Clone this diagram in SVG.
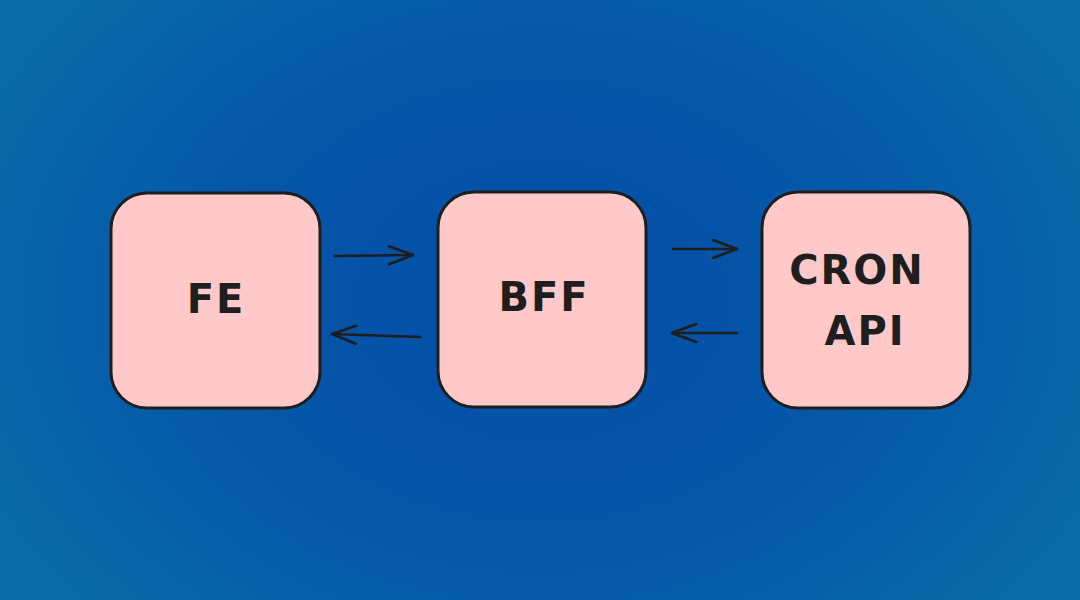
<svg xmlns="http://www.w3.org/2000/svg" width="1080" height="600" viewBox="0 0 1080 600">
<defs>
<radialGradient id="bg" cx="540" cy="300" r="620" gradientUnits="userSpaceOnUse" gradientTransform="translate(540 300) scale(1 0.75) translate(-540 -300)">
<stop offset="0" stop-color="#034ea6"/>
<stop offset="0.55" stop-color="#0557a8"/>
<stop offset="1" stop-color="#0a6ba8"/>
</radialGradient>
<marker id="ah" viewBox="0 0 30 24" refX="27" refY="12" markerWidth="30" markerHeight="24" markerUnits="userSpaceOnUse" orient="auto">
<path d="M3 3 L27 12 L3 21" fill="none" stroke="#1e1e1e" stroke-width="2.6" stroke-linecap="round" stroke-linejoin="round"/>
</marker>
</defs>
<style>
.box{fill:#ffc9c9;stroke:#1e1e1e;stroke-width:3}
.lbl{font-family:"DejaVu Sans","Liberation Sans",sans-serif;font-weight:bold;font-size:40px;fill:#1e1e1e;text-anchor:middle;letter-spacing:2px}
.conn{fill:none;stroke:#1e1e1e;stroke-width:2.6;stroke-linecap:round;marker-end:url(#ah)}
</style>
<rect width="1080" height="600" fill="url(#bg)"/>
<g id="fe">
<rect class="box" x="111" y="193" width="209" height="215" rx="36"/>
<text class="lbl" x="216" y="313">FE</text>
</g>
<g id="bff">
<rect class="box" x="438" y="192" width="208" height="215" rx="36"/>
<text class="lbl" x="544" y="311">BFF</text>
</g>
<g id="cron">
<rect class="box" x="762" y="192" width="208" height="216" rx="36"/>
<text class="lbl" x="857" y="284">CRON</text>
<text class="lbl" x="865" y="345">API</text>
</g>
<g id="connectors">
<path class="conn" d="M335 256 L413 255"/>
<path class="conn" d="M420 337 L332 334"/>
<path class="conn" d="M673 249 L737 249"/>
<path class="conn" d="M737 333 L672 333"/>
</g>
</svg>
